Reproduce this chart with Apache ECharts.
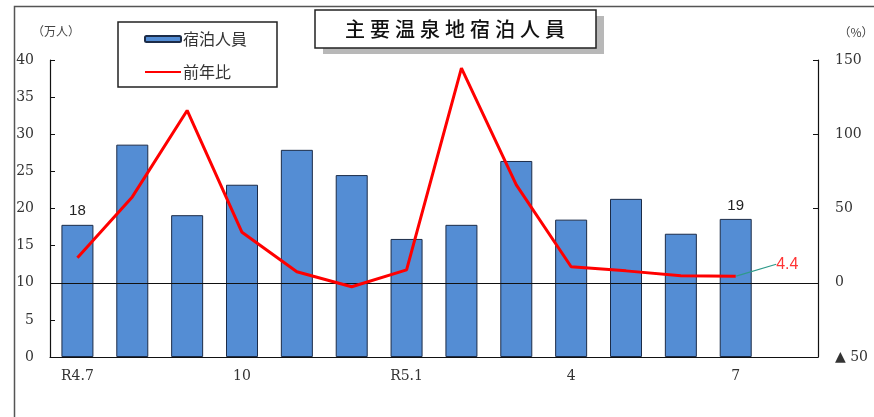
<!DOCTYPE html>
<html><head><meta charset="utf-8">
<script src="https://cdn.jsdelivr.net/npm/echarts@6/dist/echarts.min.js"></script>
<style>html,body{margin:0;padding:0;background:#fff;}#c{width:874px;height:417px;}</style>
</head><body><div id="c"></div>
<script>
const categories = ['R4.7','8','9','10','11','12','R5.1','2','3','4','5','6','7','8'];
const guests = [17.8, 28.6, 19.1, 23.2, 27.9, 24.5, 15.9, 17.8, 26.4, 18.5, 21.3, 16.6, 18.6, null];
const yoy = [16.8, 57.8, 116, 34, 7.4, -2.7, 8.7, 144.6, 65.9, 10.8, 8, 4.7, 4.4, null];
const leftTicks = {min: 0, max: 40, interval: 5};
const rightTicks = {min: -50, max: 150, interval: 50};
const labeledBars = [0, 12];
const labeledPoints = [12];

const serif = 'DejaVu Serif';
const chart = echarts.init(document.getElementById('c'), null, {renderer: 'canvas'});
chart.setOption({
  animation: false,
  backgroundColor: '#fff',
  grid: {left: 50, right: 56, top: 60, bottom: 60},
  legend: {
    orient: 'vertical', left: 139, top: 26, itemWidth: 36, itemHeight: 6, itemGap: 17,
    textStyle: {fontFamily: 'Noto Sans CJK JP', fontSize: 16, color: '#333', padding: [0, 0, 0, -3]},
    data: ['宿泊人員', {name: '前年比', itemStyle: {opacity: 0}}]
  },
  graphic: [
    {type: 'rect', left: 12, top: 4, shape: {width: 900, height: 500}, style: {fill: 'none', stroke: '#555', lineWidth: 1.5}, z: -1},
    {type: 'rect', shape: {x: 323, y: 16, width: 281, height: 38}, style: {fill: '#b8b8b8'}, z: 1},
    {type: 'rect', shape: {x: 315, y: 10, width: 281, height: 38}, style: {fill: '#fff', stroke: '#222', lineWidth: 1.5}, z: 2},
    {type: 'text', x: 455, y: 29, style: {text: '主\u2005要\u2005温\u2005泉\u2005地\u2005宿\u2005泊\u2005人\u2005員', fontFamily: 'Noto Sans CJK JP', fontSize: 20, fontWeight: 500, fill: '#111', align: 'center', verticalAlign: 'middle'}, z: 3},
    {type: 'rect', shape: {x: 118, y: 22, width: 159, height: 65}, style: {fill: 'none', stroke: '#222', lineWidth: 1.5}, z: 2},
    {type: 'text', x: 56, y: 31, style: {text: '（万人）', fontFamily: 'Noto Sans CJK JP', fontSize: 12, fill: '#444', align: 'center', verticalAlign: 'middle'}},
    {type: 'text', x: 856, y: 32, style: {text: '（%）', fontFamily: 'Noto Sans CJK JP', fontSize: 12, fill: '#444', align: 'center', verticalAlign: 'middle'}}
  ],
  xAxis: {
    type: 'category', data: categories, boundaryGap: true,
    axisLine: {lineStyle: {color: '#111', width: 1.2}},
    axisTick: {inside: true, interval: 1, length: 5, lineStyle: {color: '#111'}},
    axisLabel: {interval: 2, fontFamily: serif, fontSize: 14, color: '#333', margin: 12}
  },
  yAxis: [
    {type: 'value', min: leftTicks.min, max: leftTicks.max, interval: leftTicks.interval,
     splitLine: {show: false},
     axisLine: {show: true, lineStyle: {color: '#111', width: 1.2}},
     axisTick: {show: true, inside: true, length: 5, lineStyle: {color: '#111'}},
     axisLabel: {fontFamily: serif, fontSize: 14, color: '#333', margin: 16}},
    {type: 'value', min: rightTicks.min, max: rightTicks.max, interval: rightTicks.interval,
     position: 'right', splitLine: {show: false},
     axisLine: {show: true, lineStyle: {color: '#111', width: 1.2}},
     axisTick: {show: true, inside: true, length: 5, lineStyle: {color: '#111'}},
     axisLabel: {fontFamily: serif, fontSize: 14, color: '#333', margin: 17,
       formatter: v => v < 0 ? '▲ ' + (-v) : String(v)}}
  ],
  series: [
    {name: '宿泊人員', type: 'bar', yAxisIndex: 0, barWidth: 32,
     itemStyle: {color: '#548DD4', borderColor: '#1c2c48', borderWidth: 1},
     data: guests.map((v, i) => labeledBars.includes(i) ? {value: v, label: {show: true}} : v),
     label: {show: false, position: 'top', distance: 6, fontFamily: 'Liberation Sans', fontSize: 15, color: '#222',
       formatter: p => Math.round(p.value)}},
    {name: '前年比', type: 'line', yAxisIndex: 1, symbol: 'none',
     lineStyle: {color: '#ff0000', width: 3}, itemStyle: {color: '#ff0000'},
     data: yoy,
     markLine: {silent: true, symbol: 'none', label: {show: false},
       lineStyle: {color: '#111', width: 1.2, type: 'solid'},
       data: [{yAxis: 0}]},
     z: 5},
    {name: 'yoyLabel', type: 'scatter', yAxisIndex: 1, symbolSize: 1,
     itemStyle: {color: 'rgba(0,0,0,0)'},
     data: yoy.map((v, i) => labeledPoints.includes(i) ? [i, v] : null).filter(d => d),
     label: {show: true, position: 'right', distance: 4, fontFamily: 'Liberation Sans', fontSize: 16, color: '#ff0000',
       padding: [0, 0, 0, 5], formatter: p => p.value[1].toFixed(1)},
     labelLayout: {dx: 31, dy: -12},
     labelLine: {show: true, smooth: 0.3, lineStyle: {color: '#2e9a8a', width: 1.2}},
     z: 6}
  ]
});
</script></body></html>
